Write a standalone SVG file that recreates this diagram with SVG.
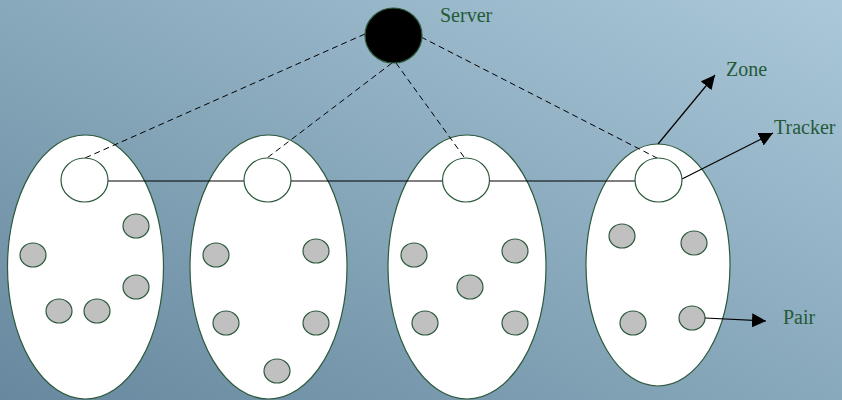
<svg xmlns="http://www.w3.org/2000/svg" width="842" height="400" viewBox="0 0 842 400">
<defs>
<linearGradient id="bg" x1="0" y1="1" x2="1" y2="0">
<stop offset="0" stop-color="#67889e"/>
<stop offset="1" stop-color="#aac8d9"/>
</linearGradient>
<marker id="arr" viewBox="0 0 10 10" refX="10" refY="5" markerWidth="14" markerHeight="14" markerUnits="userSpaceOnUse" orient="auto">
<path d="M0,0 L10,5 L0,10 z" fill="#000"/>
</marker>
<style>
.zone{fill:#fff;stroke:#2d5a3d;stroke-width:1.2}
.trk{fill:#fff;stroke:#2d5a3d;stroke-width:1.2}
.pair{fill:#c0c0c0;stroke:#2d5a3d;stroke-width:1.2}
.dash{stroke:#000;stroke-width:1;stroke-dasharray:6,4;fill:none}
.solid{stroke:#000;stroke-width:1.2;fill:none}
.lbl{font-family:"Liberation Serif","Times New Roman",serif;font-size:20px;fill:#245a38}
</style>
</defs>
<rect x="0" y="0" width="842" height="400" fill="url(#bg)"/>

<g id="zone1">
<ellipse class="zone" cx="85.5" cy="267" rx="78" ry="132"/>
<ellipse class="pair" cx="33" cy="255" rx="13" ry="12"/>
<ellipse class="pair" cx="136" cy="226" rx="13" ry="12"/>
<ellipse class="pair" cx="136" cy="287" rx="13" ry="12"/>
<ellipse class="pair" cx="59" cy="311" rx="13" ry="12"/>
<ellipse class="pair" cx="97" cy="311" rx="13" ry="12"/>
</g>
<g id="zone2">
<ellipse class="zone" cx="268.5" cy="267" rx="78.5" ry="132"/>
<ellipse class="pair" cx="216" cy="255" rx="13" ry="12"/>
<ellipse class="pair" cx="316" cy="251" rx="13" ry="12"/>
<ellipse class="pair" cx="226" cy="323" rx="13" ry="12"/>
<ellipse class="pair" cx="316" cy="323" rx="13" ry="12"/>
<ellipse class="pair" cx="277" cy="371" rx="13" ry="12"/>
</g>
<g id="zone3">
<ellipse class="zone" cx="467" cy="267" rx="79" ry="132"/>
<ellipse class="pair" cx="414" cy="255" rx="13" ry="12"/>
<ellipse class="pair" cx="515" cy="251" rx="13" ry="12"/>
<ellipse class="pair" cx="470" cy="287" rx="13" ry="12"/>
<ellipse class="pair" cx="425" cy="323" rx="13" ry="12"/>
<ellipse class="pair" cx="515" cy="323" rx="13" ry="12"/>
</g>
<g id="zone4">
<ellipse class="zone" cx="658" cy="265" rx="72" ry="121"/>
<ellipse class="pair" cx="622" cy="236" rx="13" ry="12"/>
<ellipse class="pair" cx="694" cy="243" rx="13" ry="12"/>
<ellipse class="pair" cx="633" cy="323" rx="13" ry="12"/>
<ellipse class="pair" cx="692" cy="318" rx="13" ry="12"/>
</g>

<g id="connectors">
<line class="dash" x1="365" y1="34" x2="85" y2="158"/>
<line class="dash" x1="392" y1="63" x2="267" y2="158"/>
<line class="dash" x1="396" y1="63" x2="464" y2="157"/>
<line class="dash" x1="421" y1="37" x2="657" y2="158"/>
<line class="solid" x1="108" y1="181" x2="244" y2="181"/>
<line class="solid" x1="291" y1="181" x2="443" y2="181"/>
<line class="solid" x1="489" y1="181" x2="635" y2="181"/>
<line class="solid" x1="658" y1="144" x2="715" y2="75" marker-end="url(#arr)"/>
<line class="solid" x1="682" y1="179" x2="773" y2="133" marker-end="url(#arr)"/>
<line class="solid" x1="705" y1="318" x2="766" y2="321" marker-end="url(#arr)"/>
</g>

<g id="tracker1"><ellipse class="trk" cx="84.5" cy="180" rx="23.5" ry="22"/></g>
<g id="tracker2"><ellipse class="trk" cx="267.5" cy="180" rx="23.5" ry="22"/></g>
<g id="tracker3"><ellipse class="trk" cx="466" cy="180" rx="23.5" ry="22"/></g>
<g id="tracker4"><ellipse class="trk" cx="658.5" cy="180" rx="23.5" ry="22"/></g>

<g id="server">
<ellipse cx="393.5" cy="35.5" rx="28.5" ry="27.5" fill="#000" stroke="#2d5a3d" stroke-width="1.2"/>
<text class="lbl" x="440" y="22">Server</text>
</g>
<g id="labels">
<text class="lbl" x="726" y="76">Zone</text>
<text class="lbl" x="774" y="134">Tracker</text>
<text class="lbl" x="783" y="324">Pair</text>
</g>
</svg>
